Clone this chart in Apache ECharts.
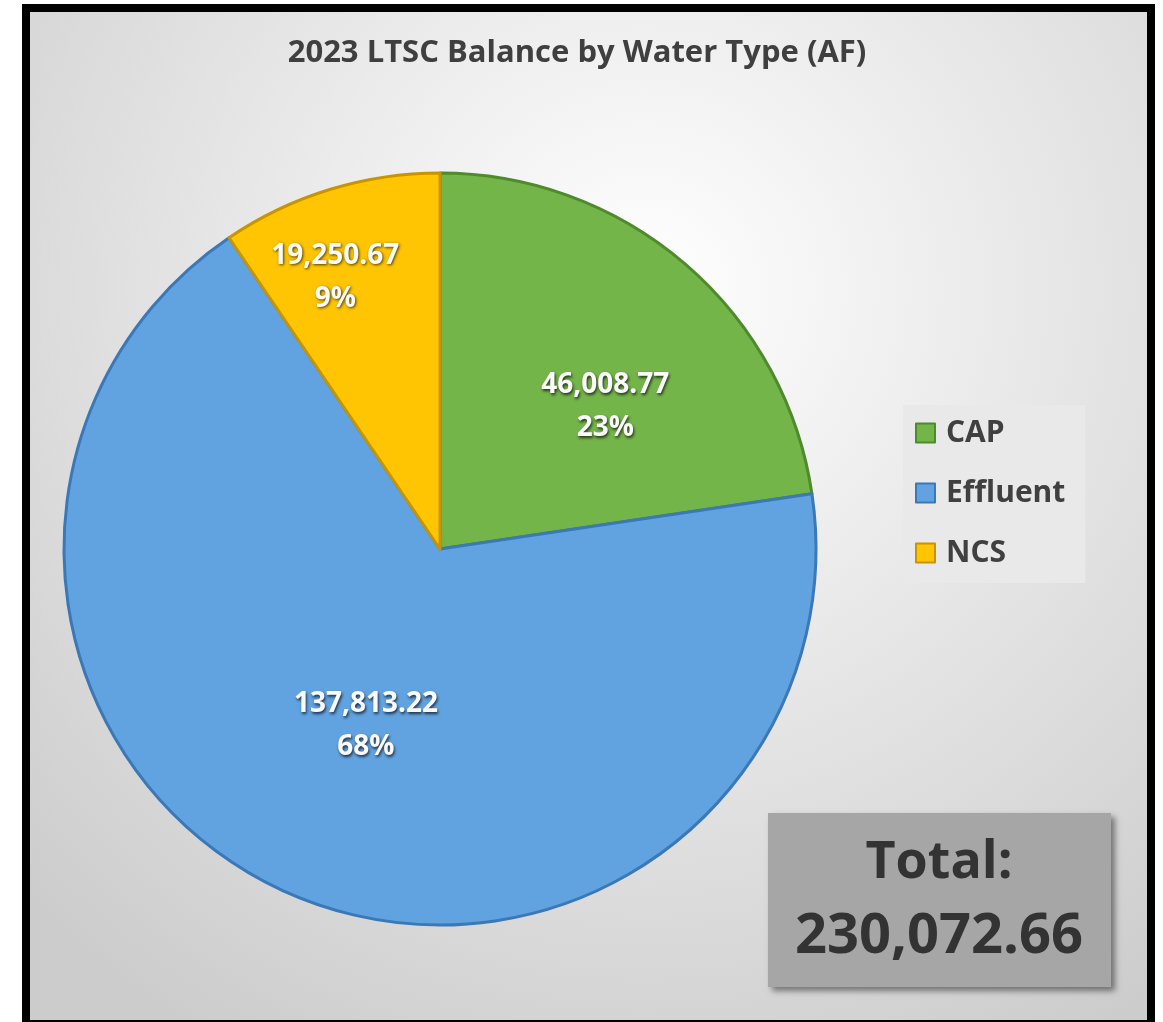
<!DOCTYPE html>
<html>
<head>
<meta charset="utf-8">
<title>2023 LTSC Balance by Water Type (AF)</title>
<script src="https://cdn.jsdelivr.net/npm/echarts@6/dist/echarts.min.js"></script>
<style>
  html, body { margin: 0; padding: 0; background: #ffffff; }
  #chart { width: 1163px; height: 1022px; }
</style>
</head>
<body>
<div id="chart"></div>
<script>
// Water types and their long-term storage credit balances (acre-feet)
const waterTypes = ['CAP', 'Effluent', 'NCS'];
const balances = [46008.77, 137813.22, 19250.67];
const sliceColors = ['#74b54a', '#61a3e0', '#ffc502'];
const sliceEdges = ['#4f8a2c', '#3b78b8', '#c89400'];
const totalBalance = 230072.66;

const chartTitle = '2023 LTSC Balance by Water Type (AF)';

// Pie geometry
const pieCenter = [440, 549];
const pieRadius = 376;
// Label placement per slice: fraction of the radius, angular nudge (deg) from the slice middle
const labelRadiusFrac = [0.58, 0.51, 0.775];
const labelAngleNudge = [8.5, -1, -4];

const fmtNum = v => v.toLocaleString('en-US', { minimumFractionDigits: 2, maximumFractionDigits: 2 });

// Mid angle of each slice (degrees clockwise from 12 o'clock)
const sum = balances.reduce((a, b) => a + b, 0);
const midAngles = [];
let acc = 0;
balances.forEach(v => { midAngles.push((acc + v / 2) / sum * 360); acc += v; });

const chart = echarts.init(document.getElementById('chart'), null, { renderer: 'canvas' });

const FONT = '"Open Sans", "DejaVu Sans", sans-serif';

chart.setOption({
  animation: false,
  graphic: [
    {
      type: 'rect',
      z: -10,
      shape: { x: 26, y: 8, width: 1125, height: 1016 },
      style: {
        fill: {
          type: 'radial', x: 0.55, y: 0.28, r: 0.85,
          colorStops: [
            { offset: 0, color: '#ffffff' },
            { offset: 1, color: '#cccccc' }
          ]
        },
        stroke: '#000000',
        lineWidth: 8
      }
    },
    {
      type: 'rect',
      z: 5,
      shape: { x: 768, y: 813, width: 343, height: 174 },
      style: {
        fill: '#a6a6a6',
        shadowBlur: 6,
        shadowOffsetX: 4,
        shadowOffsetY: 4,
        shadowColor: 'rgba(0,0,0,0.45)'
      }
    },
    {
      type: 'text',
      z: 6,
      x: 939, y: 863,
      style: {
        text: 'Total:',
        fill: '#333333',
        font: 'bold 52px ' + FONT,
        align: 'center',
        verticalAlign: 'middle'
      }
    },
    {
      type: 'text',
      z: 6,
      x: 939, y: 937,
      style: {
        text: fmtNum(totalBalance),
        fill: '#333333',
        font: 'bold 56px ' + FONT,
        align: 'center',
        verticalAlign: 'middle'
      }
    }
  ],
  title: {
    text: chartTitle,
    left: 572,
    top: 33,
    textAlign: 'center',
    textStyle: {
      fontFamily: FONT,
      fontSize: 31,
      fontWeight: 'bold',
      color: '#3f3f3f'
    }
  },
  legend: {
    orient: 'vertical',
    left: 903,
    top: 405,
    data: waterTypes,
    icon: 'rect',
    itemWidth: 19,
    itemHeight: 19,
    itemGap: 30,
    padding: [13, 20, 15, 12],
    backgroundColor: '#e9e9e9',
    textStyle: {
      fontFamily: FONT,
      fontSize: 30,
      fontWeight: 'bold',
      color: '#404040',
      lineHeight: 30,
      padding: [0, 0, 0, 6]
    }
  },
  series: [
    {
      type: 'pie',
      center: pieCenter,
      radius: pieRadius,
      startAngle: 90,
      clockwise: true,
      avoidLabelOverlap: false,
      emphasis: { disabled: true },
      data: waterTypes.map((name, i) => ({
        name,
        value: balances[i],
        itemStyle: {
          color: sliceColors[i],
          borderColor: sliceEdges[i],
          borderWidth: 3
        }
      })),
      label: {
        show: true,
        position: 'inside',
        formatter: p => fmtNum(p.value) + '\n' + Math.round(p.percent) + '%',
        fontFamily: FONT,
        fontSize: 28,
        fontWeight: 'bold',
        lineHeight: 43,
        color: '#fbfbfb',
        textShadowColor: 'rgba(0,0,0,0.7)',
        textShadowBlur: 3,
        textShadowOffsetX: 1,
        textShadowOffsetY: 1.5
      },
      labelLine: { show: false },
      labelLayout: params => {
        const i = params.dataIndex;
        const a = (midAngles[i] + labelAngleNudge[i]) * Math.PI / 180;
        const r = pieRadius * labelRadiusFrac[i];
        return {
          x: pieCenter[0] + r * Math.sin(a),
          y: pieCenter[1] - r * Math.cos(a),
          align: 'center',
          verticalAlign: 'middle'
        };
      }
    }
  ]
});
</script>
</body>
</html>
